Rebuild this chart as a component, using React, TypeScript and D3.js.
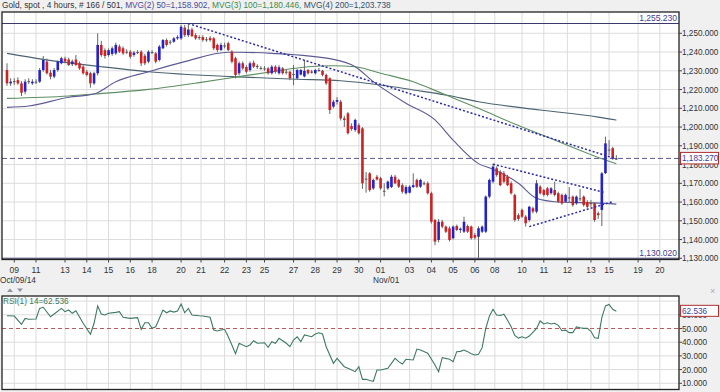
import React from 'react'
import * as d3 from 'd3'

// 4-hour gold candles, bar 0 = Oct 09
const opens = [1230.4,1223.3,1224,1225,1223.3,1218.9,1224,1223.3,1224.2,1224.2,
  1230.4,1234.9,1229,1226.9,1230.4,1234,1236.5,1236,1233.5,1236,
  1234,1232.2,1229.5,1228.7,1223.3,1228.7,1243.8,1241,1238.4,1239,
  1239.3,1242.9,1242,1240,1240.2,1238.5,1239.7,1240.2,1238,1234.9,
  1240,1239.3,1235.8,1242,1246.4,1245,1245.5,1247.3,1247.3,1253,
  1249,1252,1249,1247.5,1248,1246.5,1247.5,1247.3,1243.8,1241.1,
  1243.5,1244.7,1240.2,1236.7,1228.7,1234,1232,1230.4,1234.3,1232.6,
  1231.5,1231.3,1231.3,1228.7,1232.2,1228.7,1231.3,1229,1229.5,1228,
  1226,1228,1227,1230.4,1229,1228.7,1230.4,1230,1227.8,1226,
  1210.9,1213.5,1213.5,1204.6,1207.3,1200.5,1198.4,1201,1199.3,1172,
  1175.3,1167.3,1173.5,1172.7,1166,1167.3,1168,1173.5,1171.8,1169,
  1164.7,1165,1168,1171.8,1168.2,1170,1170,1164.7,1150.4,1139.8,
  1149.5,1146.9,1146,1140.7,1147.2,1145.1,1144.2,1147.2,1146.9,1142.4,
  1141.5,1144.2,1144.2,1162.9,1170.9,1178,1176.2,1175.3,1173.5,1170,
  1163.8,1153,1155.8,1152.2,1150.4,1156.7,1154.9,1168.2,1166.4,1167.3,
  1164.7,1166.4,1164.7,1163.8,1160.2,1162,1162.9,1159.3,1162,1162.9,
  1160,1159,1159.3,1154,1155.8,1175.4,1188,1188.7,1182.8]
const highs = [1234,1226,1226,1226.5,1224.5,1225.5,1226,1225.5,1225.5,1231.5,
  1237.9,1236.5,1230.5,1231.5,1235.5,1237.5,1237.5,1237,1236,1238.4,
  1235,1233,1230.5,1229.5,1229.5,1250,1246,1242,1242,1243,
  1245,1244,1243,1241.5,1241,1240.5,1241,1241,1239,1241,
  1241,1240,1243.8,1247,1247.3,1246.4,1248,1249,1254.5,1254.5,
  1255.23,1253,1250,1249,1249,1248,1248.5,1248,1244.5,1245,
  1245,1245.5,1241,1237.5,1235,1235,1233,1235,1235.5,1233.5,
  1232.5,1232.5,1232,1233,1233,1233,1232,1230.5,1230,1233.1,
  1231,1231,1235.8,1231,1230.5,1231,1231.5,1230.5,1228.5,1226.5,
  1214.5,1216,1214.5,1206,1208,1202,1204.5,1202,1200,1176,
  1176,1172.5,1174.5,1173.5,1170,1171.5,1174.5,1174.5,1172.5,1170,
  1169,1169,1175.3,1172.5,1172.5,1171,1171,1165.5,1151,1151,
  1150.5,1147.5,1147,1147.5,1148,1146.5,1152.2,1148,1147.5,1143.5,
  1147,1147.5,1163.5,1172.5,1180.5,1179,1177,1176.5,1174.5,1171,
  1164.5,1154,1156.5,1153,1158,1157.5,1171.8,1169,1167,1168,
  1168,1170.9,1165.5,1164.5,1164.5,1168,1163.5,1163.5,1167,1163.5,
  1161,1161,1160,1155,1176,1194.9,1193,1189.5,1185]
const lows = [1222,1222,1222.5,1222.5,1216.5,1217.5,1223,1222.5,1223,1223.5,
  1229.5,1228,1225.5,1226,1229.5,1233.5,1234,1232.5,1232.5,1232.5,
  1230.5,1228,1227,1221,1222.5,1227.5,1237.5,1236.5,1237.5,1238,
  1238.5,1239.5,1238.5,1239,1236.5,1237.5,1239,1232.5,1233,1234,
  1239,1234,1235,1241.5,1243,1244,1245,1246.5,1246.5,1248,
  1248,1248,1246.5,1246.5,1245.5,1245.5,1245.5,1241,1240,1240.5,
  1242,1240.5,1234,1226,1227.5,1230.5,1228.5,1229.5,1231.5,1231,
  1230.5,1230,1228,1228,1228.5,1228,1228,1228,1225,1222.4,
  1225.5,1227.5,1226.5,1228,1228.5,1228,1229.5,1227,1222.5,1207,
  1210,1212,1203.5,1200,1196,1198,1197.5,1196,1167,1165,
  1165.5,1166.5,1171.5,1166.5,1163,1166.5,1167.5,1169.5,1167.5,1164.5,
  1164,1164.5,1167.5,1167.5,1167.5,1169,1164,1148.5,1137,1138.5,
  1146,1143.5,1139,1140,1144.5,1143.5,1143.5,1143.5,1140,1140,
  1130.02,1143.5,1143.5,1162,1170,1173.5,1168.5,1170,1168.5,1164,
  1149.5,1150,1151.5,1146.9,1149.5,1154,1154,1164,1163,1163,
  1164,1163,1159.5,1158.5,1159.5,1160,1157.5,1158.5,1160.5,1157.5,
  1156.5,1157.5,1149.5,1151,1147.2,1175,1185,1182.5,1182.5]
const closes = [1223.3,1224.2,1224.5,1223.3,1218.3,1224.2,1224.5,1224.2,1224,1230.4,
  1235.8,1228.7,1226.9,1230.4,1234.9,1236.7,1235,1233.1,1235,1233.1,
  1231.3,1228.7,1227.8,1223.3,1228.7,1243.8,1238.4,1237.9,1241,1242,
  1243.8,1240.2,1239.3,1240.2,1237.5,1239.7,1240,1234,1234,1240.2,
  1239.7,1234.9,1242.9,1246.4,1243.8,1245.5,1247.3,1248,1253.5,1249,
  1252,1248.5,1247.3,1248,1246.4,1246.8,1246.4,1242,1241.1,1243.8,
  1243,1241.1,1234.9,1227.8,1234,1231.3,1229.5,1234,1232.2,1232,
  1231.3,1231,1228.7,1232.2,1229.5,1231.9,1228.7,1229.5,1226,1228.3,
  1230.4,1230.4,1230,1228.7,1229.6,1230.4,1230,1227.8,1223.3,1209.1,
  1213.5,1214.4,1204.6,1203.8,1196.7,1199,1203.8,1196.7,1170,1172.5,
  1166.4,1171.8,1172,1167.3,1165.5,1170.9,1173.5,1170,1168.2,1165.5,
  1168,1168.2,1169,1168.2,1171.8,1170,1164.7,1149.5,1138.9,1149.5,
  1146.9,1144.2,1139.8,1146.9,1145.1,1145.8,1149.5,1144.2,1140.7,1141,
  1146,1146.9,1162.9,1171.8,1178.9,1174.4,1169,1170.9,1169,1164.7,
  1150.4,1151,1152.2,1148.7,1157.5,1154.9,1170,1164.7,1163.8,1163.8,
  1167.3,1163.8,1160.2,1159.3,1163.8,1162.5,1158.4,1162.9,1161.5,1158.4,
  1157.5,1159.5,1150.4,1153,1175.3,1191.3,1187.5,1183.3,1183.27]

// moving averages read at sample bars
const ma50Bars = [0, 6, 17, 24, 30, 39, 49, 61, 64, 73, 90, 96, 101, 110, 118, 123, 130, 134, 141, 146, 151, 158, 165, 168]
const ma50Vals = [1210.5, 1211.2, 1215.9, 1217.6, 1224.2, 1229.5, 1234.9, 1239.9, 1239.9, 1239.3, 1236.1, 1232.2, 1224.2, 1212.7, 1203.8, 1193, 1180.5, 1177.5, 1170, 1162, 1160.2, 1159.7, 1159.3, 1158.9]
const ma100Bars = [0, 17, 24, 39, 53, 64, 73, 83, 90, 96, 103, 112, 121, 130, 140, 151, 165, 168]
const ma100Vals = [1215.3, 1216.6, 1217.6, 1220.1, 1223.7, 1226.9, 1229.5, 1232.2, 1232.7, 1232.2, 1228.7, 1224.2, 1217.1, 1210, 1201.6, 1193.1, 1182.4, 1180.4]
const ma200Bars = [0, 10, 26, 39, 62, 73, 80, 92, 103, 112, 121, 130, 147, 163, 168]
const ma200Vals = [1239.3, 1236.1, 1232.2, 1229.5, 1226.9, 1226, 1225.5, 1224.7, 1222.4, 1219.8, 1217.1, 1213.5, 1209.1, 1205.3, 1203.7]

// RSI(14) read at bars
const rsiBars = [0,2,4,5,6,8,9,10,12,13,15,16,17,18,19,21,23,24,25,26,27,28,30,31,32,34,36,37,38,39,40,41,43,44,45,46,47,48,49,50,51,53,54,56,57,58,59,60,61,62,63,64,66,67,68,69,71,72,73,74,75,77,78,79,80,81,82,84,85,86,87,88,90,91,93,94,96,97,98,99,100,101,102,103,105,107,108,109,110,112,113,114,116,118,119,120,122,123,124,125,126,127,128,129,130,131,132,133,134,135,136,137,138,139,140,141,142,143,144,145,146,147,148,149,150,151,152,153,154,155,156,157,158,159,160,161,162,163,164,165,166,167,168]
const rsiVals = [59.3,59.1,53,57.4,56.7,56.9,64.7,65.5,58.6,60.6,64.7,62.3,63.5,61.1,63,53.8,45.8,53.8,66.4,60.6,59.9,61.1,61.8,62.3,58.2,57.4,57.9,49.4,54.2,54.2,50.1,51.3,63.5,61.5,62.8,62,62.8,67.9,61.5,64.7,59.9,59.3,59.1,58.2,48.9,48.2,48.9,49.4,44,38,31.6,39.2,36.7,38,41.1,39.2,39.6,36.3,40.4,39.2,42.8,39.2,36.7,41.6,44,40.4,45.3,44,46,46.9,46,36.7,24.6,28.2,22.1,20.9,18.5,22.1,12.9,12.9,12,11.5,19.7,19.7,20.9,28.2,25.8,24.1,27.5,27,35,34.3,31.9,23.4,18.5,28.7,27.5,25.8,33.1,33.3,34.3,33.1,31.5,30.7,31.2,36,50,59,64,59.9,59.5,60.4,56,51.3,45,43,44,42.9,44.5,47.2,50,55.5,53.3,54.2,53.3,53.8,52.3,48.4,48.8,47,47,51.1,50.5,50.1,50.1,48,43.2,42.8,58,66.5,67.5,64,62.536]

// dotted trend lines
const trendFromBar = [50, 134, 144]
const trendFromPrice = [1255.2, 1180.2, 1146.9]
const trendToBar = [168, 165, 167]
const trendToPrice = [1183, 1165, 1160.2]

// x axis day labels and the bar where each day starts
const dayLabels = ['09','11','13','14','15','16','18','20','21','22','23','25','27','28','29','30','01','03','04','05','06','08','10','11','12','13','15','19','20']
const dayBars = [2,8,16,22,28,34,40,48,53.5,60,66,71,79,85,91,97,103,111,117,123,129,134.5,142,148,154.5,161,166,174,180]

const priceTicks = [1130,1140,1150,1160,1170,1180,1190,1200,1210,1220,1230,1240,1250]
const rsiTicks = [10,20,30,40,50,60]
const rsiGrid = [10,20,30,40,60,70]

const lastPrice = 1183.27
const periodHigh = 1255.23
const periodLow = 1130.02
const lastRsi = 62.536

const L = 2, R = 679
const MAIN_TOP = 12, MAIN_BOTTOM = 259.5
const RSI_TOP = 296, RSI_BOTTOM = 389.5

export default function App() {
  const x = d3.scaleLinear().domain([0, 185]).range([7, 678])
  const y = d3.scaleLinear().domain([1130, 1250]).range([258.3, 33.3])
  const yr = d3.scaleLinear().domain([0, 70]).range([397, 301.1])
  const fmt = d3.format(',.3f')

  const maPath = (bars: number[], vals: number[]) =>
    d3.line<number>().x((_, i) => x(bars[i])).y(v => y(v)).curve(d3.curveMonotoneX)(vals) || ''
  const rsiPath = d3.line<number>().x((_, i) => x(rsiBars[i])).y(v => yr(v))(rsiVals) || ''

  const font = '"Liberation Sans", Arial, sans-serif'

  return (
    <svg width={720} height={392} style={{ position: 'absolute', left: 0, top: 0, fontFamily: font }}>
      <defs>
        <clipPath id="mainClip"><rect x={L} y={MAIN_TOP} width={R - L} height={MAIN_BOTTOM - MAIN_TOP} /></clipPath>
        <clipPath id="rsiClip"><rect x={L} y={RSI_TOP} width={R - L} height={RSI_BOTTOM - RSI_TOP} /></clipPath>
      </defs>
      <rect width={720} height={392} fill="#f0f0f0" />

      <text x={2} y={8} fontSize={8.3}>
        <tspan fill="#333">Gold, spot , 4 hours, # 166 / 501, </tspan>
        <tspan fill="#4a4a9a">MVG(2) 50=1,158.902, </tspan>
        <tspan fill="#3d8a4a">MVG(3) 100=1,180.446, </tspan>
        <tspan fill="#2f4f6f">MVG(4) 200=1,203.738</tspan>
      </text>

      {/* main panel */}
      <rect x={L} y={MAIN_TOP} width={R - L} height={MAIN_BOTTOM - MAIN_TOP} fill="#fff" />
      {priceTicks.map(v => (
        <line key={'hg' + v} x1={L} x2={R} y1={y(v)} y2={y(v)} stroke="#dcdcdc" />
      ))}
      {dayBars.map((b, i) => (
        <g key={'vg' + i}>
          <line x1={x(b)} x2={x(b)} y1={MAIN_TOP} y2={MAIN_BOTTOM} stroke="#dcdcdc" />
          <line x1={x(b)} x2={x(b)} y1={RSI_TOP} y2={RSI_BOTTOM} stroke="#dcdcdc" />
        </g>
      ))}

      <g clipPath="url(#mainClip)">
        <line x1={L} x2={R} y1={y(periodHigh)} y2={y(periodHigh)} stroke="#3a3a6a" strokeWidth={1.2} />
        <line x1={L} x2={R} y1={y(periodLow)} y2={y(periodLow)} stroke="#3a3a6a" strokeWidth={1.2} />
        <line x1={L} x2={R} y1={y(lastPrice)} y2={y(lastPrice)} stroke="#5a5a96" strokeDasharray="5,3" />

        <path d={maPath(ma200Bars, ma200Vals)} fill="none" stroke="#4c6470" strokeWidth={1.1} />
        <path d={maPath(ma100Bars, ma100Vals)} fill="none" stroke="#5e8f62" strokeWidth={1.1} />
        <path d={maPath(ma50Bars, ma50Vals)} fill="none" stroke="#5b5b92" strokeWidth={1.1} />

        {closes.map((c, i) => {
          const o = opens[i]
          const col = Math.abs(c - o) < 0.6 ? '#555' : c > o ? '#2222c8' : '#cc2222'
          const top = y(Math.max(o, c))
          const h = Math.max(1, y(Math.min(o, c)) - top)
          return (
            <g key={'c' + i}>
              <line x1={x(i)} x2={x(i)} y1={y(highs[i])} y2={y(lows[i])} stroke="#666" strokeWidth={1} />
              <rect x={x(i) - 1.3} y={top} width={2.6} height={h} fill={col} />
            </g>
          )
        })}

        {trendFromBar.map((b, i) => (
          <line key={'t' + i} x1={x(b)} y1={y(trendFromPrice[i])} x2={x(trendToBar[i])} y2={y(trendToPrice[i])}
            stroke="#2a2aa8" strokeWidth={1.5} strokeDasharray="2,2" />
        ))}
      </g>

      <rect x={L} y={MAIN_TOP} width={R - L} height={MAIN_BOTTOM - MAIN_TOP} fill="none" stroke="#222" strokeWidth={1.3} />

      <text x={677} y={y(periodHigh) - 2} fontSize={8.5} fill="#3c3c94" textAnchor="end">{fmt(periodHigh)}</text>
      <text x={677} y={y(periodLow) - 2} fontSize={8.5} fill="#3c3c94" textAnchor="end">{fmt(periodLow)}</text>

      {priceTicks.map(v => (
        <g key={'pl' + v}>
          <line x1={R} x2={R + 3} y1={y(v)} y2={y(v)} stroke="#444" />
          <text x={R + 3} y={y(v) + 3} fontSize={8.2} fill="#333">{fmt(v)}</text>
        </g>
      ))}
      <rect x={680.5} y={y(lastPrice) - 6} width={38} height={11.5} fill="#fff" stroke="#b03030" />
      <text x={682} y={y(lastPrice) + 3} fontSize={8.2} fill="#3a3aa0">{fmt(lastPrice)}</text>

      {/* time axis */}
      {dayBars.map((b, i) => (
        <g key={'xl' + i}>
          <line x1={x(b)} x2={x(b)} y1={MAIN_BOTTOM} y2={MAIN_BOTTOM + 3} stroke="#444" />
          <text x={x(b)} y={273} fontSize={8.5} fill="#333" textAnchor="middle">{dayLabels[i]}</text>
        </g>
      ))}
      <text x={0} y={283} fontSize={8.3} fill="#333">Oct/09/14</text>
      <text x={373} y={283} fontSize={8.3} fill="#333">Nov/01</text>
      <path d="M7,292 L10,288.5 L13,292 Z" fill="#8a94a4" />
      <path d="M17,288.5 L23,288.5 L20,292 Z" fill="#8a94a4" />
      <text x={710} y={294} fontSize={9} fill="#aab">×</text>

      {/* RSI panel */}
      <rect x={L} y={RSI_TOP} width={R - L} height={RSI_BOTTOM - RSI_TOP} fill="#fff" />
      {rsiGrid.map(v => (
        <line key={'rg' + v} x1={L} x2={R} y1={yr(v)} y2={yr(v)} stroke="#dcdcdc" />
      ))}
      {dayBars.map((b, i) => (
        <line key={'rv' + i} x1={x(b)} x2={x(b)} y1={RSI_TOP} y2={RSI_BOTTOM} stroke="#dcdcdc" />
      ))}
      <g clipPath="url(#rsiClip)">
        <line x1={L} x2={R} y1={yr(50)} y2={yr(50)} stroke="#c05a5a" strokeWidth={1.2} strokeDasharray="4,3" />
        <path d={rsiPath} fill="none" stroke="#3f7a62" strokeWidth={1.1} />
      </g>
      <rect x={L} y={RSI_TOP} width={R - L} height={RSI_BOTTOM - RSI_TOP} fill="none" stroke="#222" strokeWidth={1.3} />
      <text x={3} y={303.5} fontSize={8.3} fill="#3a7a5a">RSI(1) 14={lastRsi}</text>

      {rsiTicks.map(v => (
        <g key={'rl' + v}>
          <line x1={R} x2={R + 3} y1={yr(v)} y2={yr(v)} stroke="#444" />
          <text x={R + 3} y={yr(v) + 3} fontSize={8.2} fill="#333">{d3.format('.3f')(v)}</text>
        </g>
      ))}
      <rect x={680.5} y={yr(lastRsi) - 6} width={38} height={11} fill="#fff" stroke="#b03030" />
      <text x={682} y={yr(lastRsi) + 3} fontSize={8.2} fill="#3a3aa0">{d3.format('.3f')(lastRsi)}</text>
    </svg>
  )
}
